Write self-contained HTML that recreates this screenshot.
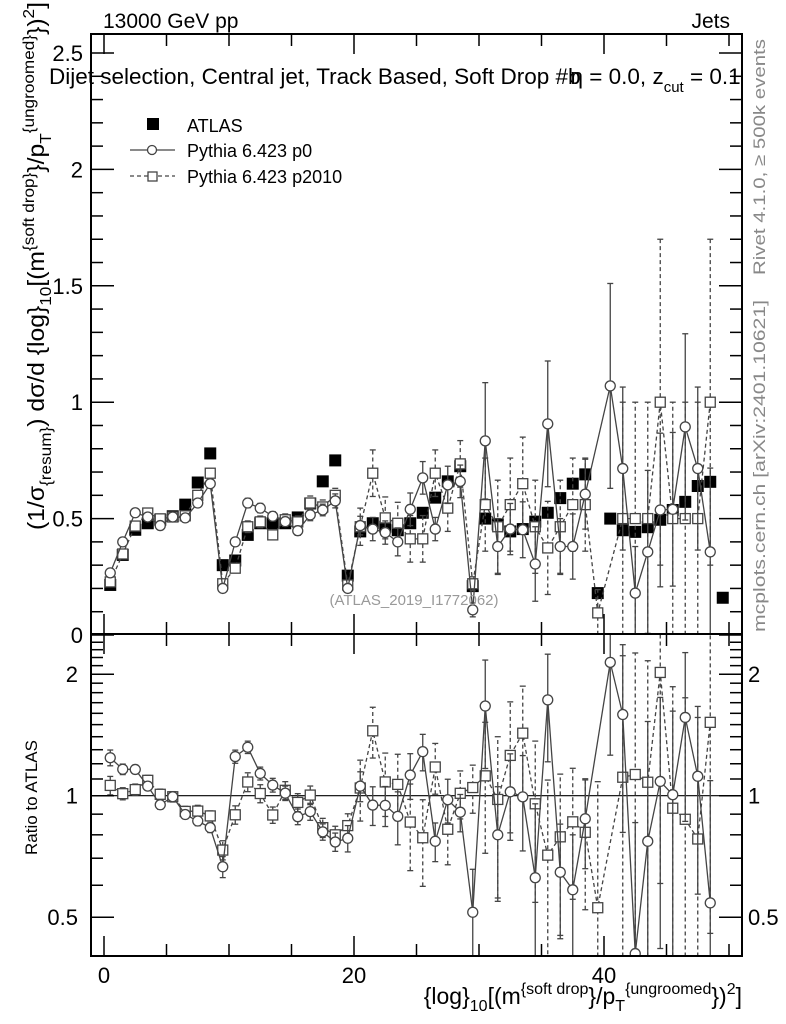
<!DOCTYPE html>
<html><head><meta charset="utf-8"><style>
html,body{margin:0;padding:0;background:#fff;overflow:hidden;width:786px;height:1024px;}
svg{display:block;font-family:"Liberation Sans",sans-serif;}
</style></head><body>
<svg id="chart" width="786" height="1024" viewBox="0 0 786 1024" xmlns="http://www.w3.org/2000/svg">
<rect x="0" y="0" width="786" height="1024" fill="#fff"/>
<g id="main-marks"></g>
<g id="ratio-marks"></g>
<g id="axes"></g>
<text x="103" y="28" font-size="21">13000 GeV pp</text>
<text x="730" y="28" font-size="21" text-anchor="end">Jets</text>
<text x="49" y="84" font-size="22.5">Dijet selection, Central jet, Track Based, Soft Drop #b<tspan dx="-10">η</tspan> = 0.0, z<tspan font-size="15" dy="8">cut</tspan><tspan dy="-8"> = 0.1</tspan></text>
<g>
<rect x="147" y="118" width="12" height="12" fill="#000"/>
<text x="187" y="132" font-size="18">ATLAS</text>
<line x1="130" y1="150" x2="175" y2="150" stroke="#444" stroke-width="1.3"/>
<circle cx="152" cy="150" r="4.5" fill="#fff" stroke="#444" stroke-width="1.3"/>
<text x="187" y="157" font-size="18">Pythia 6.423 p0</text>
<line x1="130" y1="176" x2="175" y2="176" stroke="#444" stroke-width="1.3" stroke-dasharray="4,3"/>
<rect x="148" y="172" width="9" height="9" fill="#fff" stroke="#444" stroke-width="1.3"/>
<text x="187" y="183" font-size="18">Pythia 6.423 p2010</text>
</g>
<text x="414" y="605" font-size="15" fill="#999" text-anchor="middle">(ATLAS_2019_I1772062)</text>
<text transform="translate(765,275) rotate(-90)" font-size="17" fill="#888" textLength="236" lengthAdjust="spacingAndGlyphs">Rivet 4.1.0, ≥ 500k events</text>
<text transform="translate(765,632) rotate(-90)" font-size="17" fill="#888" textLength="332" lengthAdjust="spacingAndGlyphs">mcplots.cern.ch [arXiv:2401.10621]</text>
<text transform="translate(44,530) rotate(-90)" font-size="23" textLength="528" lengthAdjust="spacingAndGlyphs">(1/σ<tspan font-size="16" dy="7">{resum}</tspan><tspan dy="-7">) dσ/d {log}</tspan><tspan font-size="16" dy="7">10</tspan><tspan dy="-7">[(m</tspan><tspan font-size="16" dy="-10">{soft drop}</tspan><tspan dy="10">}/p</tspan><tspan font-size="16" dy="7">T</tspan><tspan font-size="16" dy="-17">{ungroomed}</tspan><tspan dy="10">})</tspan><tspan font-size="16" dy="-10">2</tspan><tspan dy="10">]</tspan></text>
<text transform="translate(37,855) rotate(-90)" font-size="17">Ratio to ATLAS</text>
<text x="742" y="1004" font-size="23" text-anchor="end">{log}<tspan font-size="16" dy="7">10</tspan><tspan dy="-7">[(m</tspan><tspan font-size="16" dy="-10">{soft drop</tspan><tspan dy="10">}/p</tspan><tspan font-size="16" dy="7">T</tspan><tspan font-size="16" dy="-17">{ungroomed</tspan><tspan dy="10">})</tspan><tspan font-size="16" dy="-10">2</tspan><tspan dy="10">]</tspan></text>
<script>
const binCenters = [];
for (let i = 0; i < 50; i++) binCenters.push(i + 0.5);
const atlasValues = [0.215,0.344,0.452,0.48,0.495,0.51,0.56,0.655,0.78,0.30,0.32,0.43,0.48,0.48,0.48,0.505,0.565,0.66,0.75,0.255,0.445,0.48,0.465,0.45,0.48,0.525,0.59,0.66,0.725,0.21,0.50,0.475,0.445,0.455,0.487,0.525,0.588,0.65,0.69,0.18,0.50,0.45,0.443,0.463,0.495,0.537,0.572,0.64,0.658,0.16];
const p0Values = [0.267,0.40,0.525,0.507,0.47,0.507,0.503,0.567,0.65,0.20,0.40,0.567,0.545,0.51,0.487,0.448,0.516,0.537,0.576,0.20,0.47,0.455,0.44,0.40,0.54,0.675,0.455,0.645,0.66,0.108,0.834,0.38,0.455,0.452,0.305,0.907,0.38,0.38,0.605,null,1.07,0.715,0.18,0.357,0.537,0.54,0.894,0.715,0.357,null];
const p0Errors = [0.012,0.012,0.012,0.012,0.012,0.012,0.012,0.015,0.018,0.012,0.015,0.02,0.02,0.02,0.02,0.02,0.025,0.025,0.03,0.015,0.04,0.05,0.05,0.06,0.07,0.07,0.05,0.08,0.07,0.03,0.25,0.12,0.11,0.12,0.16,0.27,0.12,0.14,0.15,0,0.44,0.35,0.2,0.35,0.33,0.33,0.4,0.35,0.36,0];
const p2010Values = [0.228,0.348,0.468,0.524,0.499,0.507,0.512,0.60,0.695,0.22,0.287,0.465,0.486,0.43,0.495,0.486,0.567,0.55,0.60,0.215,0.465,0.695,0.503,0.48,0.413,0.413,0.695,0.545,0.735,0.22,0.56,0.465,0.56,0.65,0.465,0.374,0.465,0.56,0.56,0.095,null,0.5,0.5,0.5,1.0,0.5,0.5,0.5,1.0,null];
const p2010Errors = [0.012,0.012,0.015,0.015,0.015,0.015,0.015,0.02,0.02,0.012,0.015,0.025,0.025,0.02,0.025,0.025,0.03,0.03,0.03,0.015,0.08,0.1,0.09,0.09,0.1,0.1,0.1,0.1,0.1,0.03,0.2,0.2,0.2,0.2,0.2,0.2,0.2,0.2,0.2,0.1,0,0.5,0.5,0.5,0.7,0.5,0.5,0.5,0.7,0];
const mainYTicks = ["0","0.5","1","1.5","2","2.5"];
const xTickLabels = ["0","20","40"];
const ratioTicks = ["0.5","1","2"];

const NS = "http://www.w3.org/2000/svg";
const L = 91, R = 742, MT = 34, MB = 634, RT = 634, RB = 956;
const xs = v => 104 + v * 12.5;
const ym = v => 635 - v * 232.8;
const yr = v => 795.7 - Math.log2(v) * 121.5;
function mk(tag, attrs, parent) {
  const e = document.createElementNS(NS, tag);
  for (const k in attrs) e.setAttribute(k, attrs[k]);
  parent.appendChild(e);
  return e;
}
const mainG = document.getElementById('main-marks');
const ratioG = document.getElementById('ratio-marks');
const axG = document.getElementById('axes');

const defs = mk('defs', {}, document.getElementById('chart'));
const c1 = mk('clipPath', {id: 'clipMain'}, defs);
mk('rect', {x: L, y: MT, width: R - L, height: MB - MT}, c1);
const c2 = mk('clipPath', {id: 'clipRatio'}, defs);
mk('rect', {x: L, y: RT, width: R - L, height: RB - RT}, c2);
mainG.setAttribute('clip-path', 'url(#clipMain)');
ratioG.setAttribute('clip-path', 'url(#clipRatio)');

function drawSeries(g, yf, vals, errs, kind, dashed, name) {
  const col = kind === 'atlas' ? '#000' : '#444';
  const all = [];
  vals.forEach((v, i) => {
    if (v === null || v <= 0) return;
    all.push([xs(binCenters[i]), yf(v)]);
  });
  if (kind !== 'atlas') {
    const pl = mk('polyline', {points: all.map(p => p.join(',')).join(' '), fill: 'none', stroke: col, 'stroke-width': 1.3}, g);
    if (dashed) pl.setAttribute('stroke-dasharray', '4,3');
    
    
  }
  vals.forEach((v, i) => {
    if (v === null || v <= 0) return;
    const x = xs(binCenters[i]);
    const e = errs ? errs[i] : 0;
    if (e > 0) {
      const lo = Math.max(v - e, 1e-3), hi = v + e;
      const eb = mk('line', {x1: x, x2: x, y1: yf(lo), y2: yf(hi), stroke: col, 'stroke-width': 1.3}, g);
      if (dashed) eb.setAttribute('stroke-dasharray', '4,3');
      
      
      [lo, hi].forEach(t => mk('line', {x1: x - 3, x2: x + 3, y1: yf(t), y2: yf(t), stroke: col, 'stroke-width': 1.3}, g));
    }
    let m;
    if (kind === 'atlas') m = mk('rect', {x: x - 6, y: yf(v) - 6, width: 12, height: 12, fill: '#000'}, g);
    else if (kind === 'circle') m = mk('circle', {cx: x, cy: yf(v), r: 5, fill: '#fff', stroke: col, 'stroke-width': 1.3}, g);
    else m = mk('rect', {x: x - 5, y: yf(v) - 5, width: 10, height: 10, fill: '#fff', stroke: col, 'stroke-width': 1.3}, g);
    
    
  });
}
drawSeries(mainG, ym, atlasValues, null, 'atlas', false, 'atlas');
drawSeries(mainG, ym, p2010Values, p2010Errors, 'square', true, 'p2010');
drawSeries(mainG, ym, p0Values, p0Errors, 'circle', false, 'p0');

const ref = mk('line', {x1: L, x2: R, y1: yr(1), y2: yr(1), stroke: '#000', 'stroke-width': 1.2}, ratioG);


const r0 = p0Values.map((v, i) => v === null ? null : v / atlasValues[i]);
const r0e = p0Errors.map((e, i) => e / atlasValues[i]);
const r2 = p2010Values.map((v, i) => v === null ? null : v / atlasValues[i]);
const r2e = p2010Errors.map((e, i) => e / atlasValues[i]);
drawSeries(ratioG, yr, r2, r2e, 'square', true, 'ratio-p2010');
drawSeries(ratioG, yr, r0, r0e, 'circle', false, 'ratio-p0');

const f1 = mk('rect', {x: L, y: MT, width: R - L, height: MB - MT, fill: 'none', stroke: '#000', 'stroke-width': 2}, axG);


const f2 = mk('rect', {x: L, y: RT, width: R - L, height: RB - RT, fill: 'none', stroke: '#000', 'stroke-width': 2}, axG);



for (let v = 0; v <= 50; v += 5) {
  const x = xs(v), len = v % 20 === 0 ? 20 : 12;
  [[MT, 1], [MB, -1], [RT, 1], [RB, -1]].forEach(([y, d]) => mk('line', {x1: x, x2: x, y1: y, y2: y + d * len, stroke: '#000', 'stroke-width': 1.5}, axG));
}
xTickLabels.forEach(s => {
  const t = mk('text', {x: xs(+s), y: 983, 'font-size': 22, 'text-anchor': 'middle'}, axG);
  t.textContent = s;
  
  
});
for (let k = 0; k <= 25; k++) {
  const v = k / 10, y = ym(v);
  if (y < MT) continue;
  const len = k % 5 === 0 ? 23 : 12;
  mk('line', {x1: L, x2: L + len, y1: y, y2: y, stroke: '#000', 'stroke-width': 1.5}, axG);
  mk('line', {x1: R, x2: R - len, y1: y, y2: y, stroke: '#000', 'stroke-width': 1.5}, axG);
}
mainYTicks.forEach(s => {
  const t = mk('text', {x: 83, y: ym(+s) + 8, 'font-size': 22, 'text-anchor': 'end'}, axG);
  t.textContent = s;
  
  
});
const rMinor = [0.4,0.5,0.6,0.7,0.8,0.9,1,1.1,1.2,1.3,1.4,1.5,1.6,1.7,1.8,1.9,2,2.1,2.2,2.3,2.4];
rMinor.forEach(v => {
  const y = yr(v);
  if (y < RT || y > RB) return;
  const len = (v === 0.5 || v === 1 || v === 2) ? 23 : 12;
  mk('line', {x1: L, x2: L + len, y1: y, y2: y, stroke: '#000', 'stroke-width': 1.5}, axG);
  mk('line', {x1: R, x2: R - len, y1: y, y2: y, stroke: '#000', 'stroke-width': 1.5}, axG);
});
ratioTicks.forEach(s => {
  const t = mk('text', {x: 78, y: yr(+s) + 8, 'font-size': 22, 'text-anchor': 'end'}, axG);
  t.textContent = s;
  
  
  const t2 = mk('text', {x: 748, y: yr(+s) + 8, 'font-size': 22}, axG);
  t2.textContent = s;
  
  
});
</script>
</svg>
</body></html>
